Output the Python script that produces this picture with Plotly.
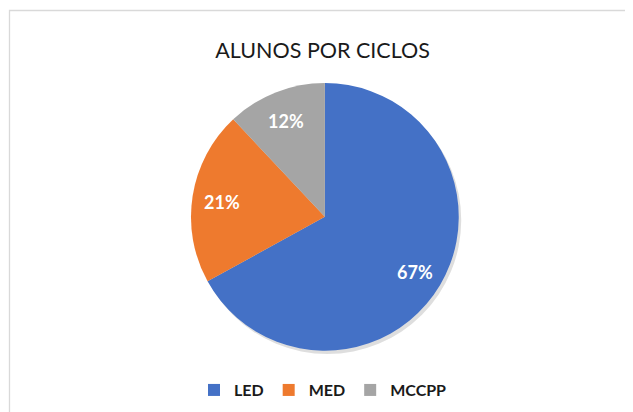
import numpy as np
import plotly.graph_objects as go

# data
cycles = ["LED", "MED", "MCCPP"]
shares = [67, 21, 12]
colors = ["#4471C6", "#EE7A2E", "#A5A5A5"]

# page geometry (the page body adds an 8px margin)
top, H = 75, 271
left, W = 7, 626
R = 0.988 * H / 2
cx = left + 0.495 * W
cy = top + 0.006 * H + R

fig = go.Figure()

# soft drop shadow behind the pie
fig.add_trace(go.Pie(
    labels=["shadow"], values=[1],
    marker=dict(colors=["rgba(0,0,0,0.13)"]),
    domain=dict(x=[0.004, 0.994], y=[0, 0.988]),
    textinfo="none", hoverinfo="skip", showlegend=False, sort=False,
))

fig.add_trace(go.Pie(
    labels=cycles, values=shares,
    sort=False, direction="clockwise", rotation=0,
    marker=dict(colors=colors, line=dict(width=0)),
    textinfo="none",
    domain=dict(x=[0, 0.99], y=[0.012, 1]),
))

# percentage labels placed along each slice's mid angle
total = sum(shares)
cum = np.cumsum([0] + shares)
annotations = []
for i, s in enumerate(shares):
    mid = (cum[i] + s / 2) / total * 2 * np.pi
    px = cx + 0.78 * R * np.sin(mid)
    py = cy - 0.78 * R * np.cos(mid)
    annotations.append(dict(
        text=f"{round(s / total * 100)}%", showarrow=False,
        xref="paper", yref="paper",
        x=(px - left) / W, y=(top + H - py) / H,
        xanchor="center", yanchor="middle",
        font=dict(family="Lato", size=18, color="white", weight="bold"),
    ))

fig.update_layout(
    width=633, height=412,
    margin=dict(l=left, r=633 - left - W, t=top, b=412 - top - H),
    paper_bgcolor="white",
    title=dict(text="ALUNOS POR CICLOS", x=0.497, xanchor="center",
               y=0.896, yanchor="middle",
               font=dict(family="Lato", size=21.5, color="#1a1a1a")),
    legend=dict(orientation="h", x=0.492, xanchor="center", y=-0.133, yanchor="middle",
                font=dict(family="Lato", size=16, color="#1a1a1a", weight="bold"),
                itemwidth=30, traceorder="normal"),
    annotations=annotations,
    shapes=[dict(type="rect", xref="paper", yref="paper",
                 x0=(1.5 - left) / W, x1=1.05, y0=-0.4, y1=(top + H - 2.5) / H,
                 line=dict(color="#d9d9d9", width=1.3), layer="below")],
)

fig.write_html("out.html")
